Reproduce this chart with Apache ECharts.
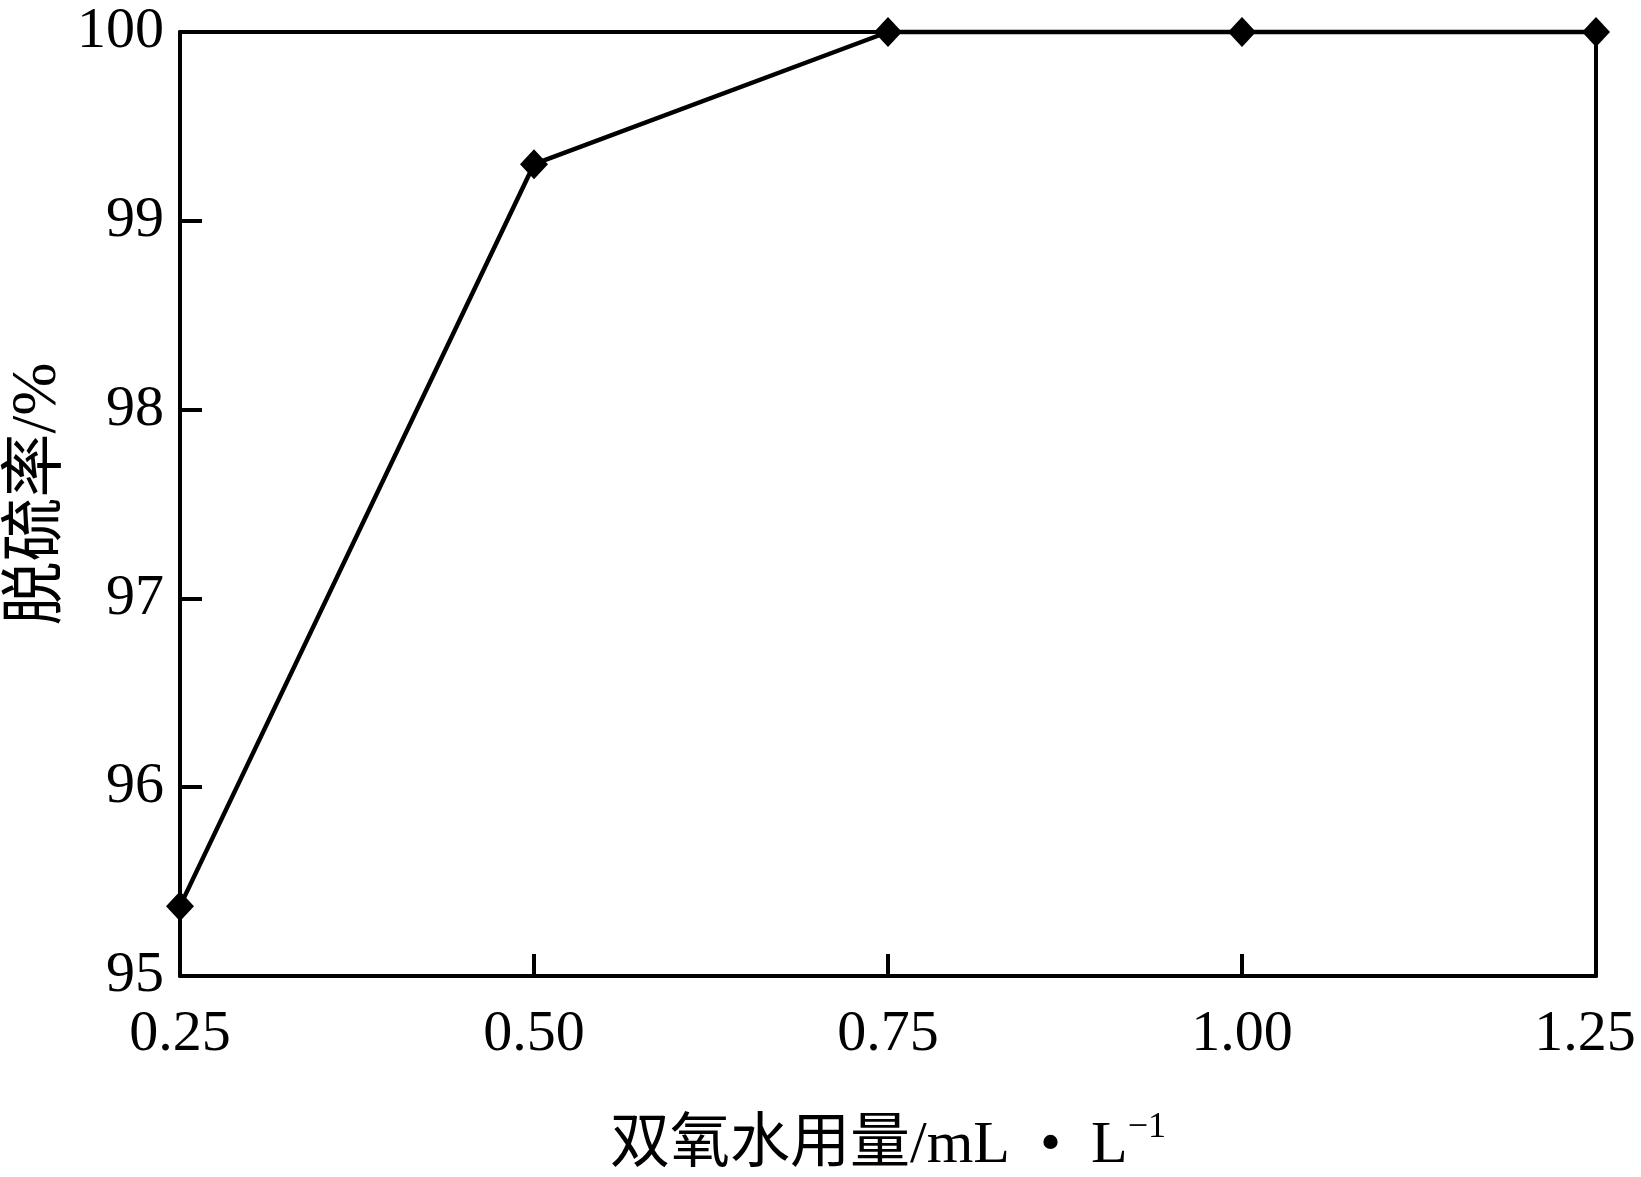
<!DOCTYPE html>
<html>
<head>
<meta charset="utf-8">
<script src="https://cdn.jsdelivr.net/npm/echarts@6/dist/echarts.min.js"></script>
<style>
html,body{margin:0;padding:0;background:#fff;}
#chart{width:1641px;height:1177px;}
</style>
</head>
<body>
<div id="chart"></div>
<script>
const xValues = [0.25, 0.50, 0.75, 1.00, 1.25];
const desulfRate = [95.37, 99.3, 100, 100, 100];
const xTicks = [0.25, 0.50, 0.75, 1.00, 1.25];
const yTicks = [95, 96, 97, 98, 99, 100];
const xName = '双氧水用量/mL  •  L';
const xNameSup = '−1';
const yName = '脱硫率/%';

const FONT = '"Liberation Serif", "Noto Sans CJK SC", serif';
const chart = echarts.init(document.getElementById('chart'));
const axisLine = {show: true, lineStyle: {color: '#000', width: 4}};
const xMax = xTicks[xTicks.length - 1];
chart.setOption({
  animation: false,
  backgroundColor: '#fff',
  grid: {left: 180, right: 45, top: 32, bottom: 201, containLabel: false, outerBoundsMode: 'none'},
  xAxis: [{
    type: 'value',
    min: xTicks[0], max: xMax, interval: 0.25,
    axisLine: axisLine,
    axisTick: {show: true, inside: true, length: 22, lineStyle: {color: '#000', width: 4}},
    splitLine: {show: false},
    axisLabel: {
      color: '#000', fontFamily: FONT, fontSize: 58, margin: 30,
      formatter: v => v === xMax ? '{r|' + v.toFixed(2) + '}' : v.toFixed(2),
      rich: {r: {color: '#000', fontFamily: FONT, fontSize: 58, padding: [0, 22, 0, 0]}}
    },
    name: '{a|' + xName + '}{s|' + xNameSup + '}',
    nameLocation: 'middle', nameGap: 134,
    nameTextStyle: {
      rich: {
        a: {fontFamily: FONT, fontSize: 60, color: '#000', verticalAlign: 'bottom', lineHeight: 66},
        s: {fontFamily: FONT, fontSize: 36, color: '#000', verticalAlign: 'top', padding: [0, 0, 24, 0], lineHeight: 66}
      }
    }
  }, {
    type: 'value', position: 'top',
    min: xTicks[0], max: xMax, interval: 0.25,
    axisLine: axisLine, axisTick: {show: false}, axisLabel: {show: false}, splitLine: {show: false}
  }],
  yAxis: [{
    type: 'value',
    min: yTicks[0], max: yTicks[yTicks.length - 1], interval: 1,
    axisLine: axisLine,
    axisTick: {show: true, inside: true, length: 22, lineStyle: {color: '#000', width: 4}},
    splitLine: {show: false},
    axisLabel: {color: '#000', fontFamily: FONT, fontSize: 58, margin: 16},
    name: yName,
    nameLocation: 'middle', nameGap: 110, nameRotate: 90, nameMoveOverlap: false,
    nameTextStyle: {color: '#000', fontFamily: FONT, fontSize: 64, padding: [0, 0, 0, 20]}
  }, {
    type: 'value', position: 'right',
    min: yTicks[0], max: yTicks[yTicks.length - 1], interval: 1,
    axisLine: axisLine, axisTick: {show: false}, axisLabel: {show: false}, splitLine: {show: false}
  }],
  series: [{
    type: 'line',
    data: xValues.map((x, i) => [x, desulfRate[i]]),
    symbol: 'diamond',
    symbolSize: [28, 30],
    lineStyle: {color: '#000', width: 4.5},
    itemStyle: {color: '#000'},
    clip: false,
    z: 5
  }]
});
</script>
</body>
</html>
